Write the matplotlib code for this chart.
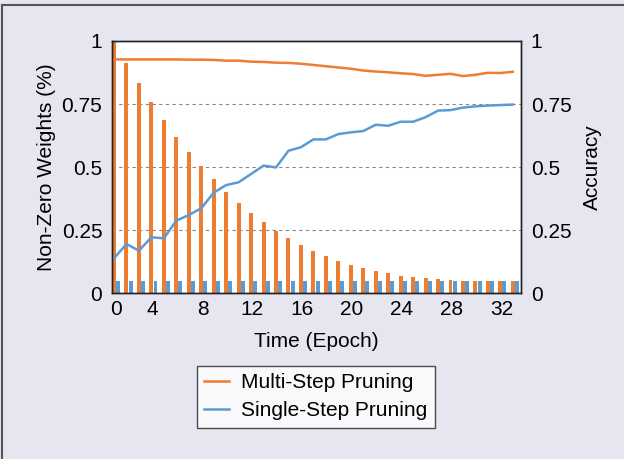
import matplotlib
matplotlib.use("Agg")
import matplotlib.pyplot as plt
import numpy as np

plt.rcParams["font.family"] = ["Liberation Sans", "DejaVu Sans"]
plt.rcParams["font.size"] = 15

epochs = np.arange(33)

# non-zero weight fraction (bars, left axis)
multi_weights = [1.0, 0.914, 0.835, 0.759, 0.687, 0.620, 0.560, 0.505, 0.453,
                 0.402, 0.358, 0.318, 0.283, 0.247, 0.219, 0.191, 0.169, 0.148,
                 0.129, 0.112, 0.100, 0.088, 0.080, 0.069, 0.065, 0.061, 0.057,
                 0.053, 0.05, 0.05, 0.05, 0.05, 0.05]
single_weights = [0.05] * 33

# accuracy (lines, right axis)
multi_acc = [0.927, 0.927, 0.927, 0.927, 0.927, 0.927, 0.926, 0.926, 0.925,
             0.922, 0.922, 0.918, 0.917, 0.914, 0.913, 0.910, 0.905, 0.900,
             0.895, 0.890, 0.883, 0.879, 0.876, 0.872, 0.869, 0.862, 0.866,
             0.870, 0.861, 0.866, 0.874, 0.873, 0.878]
single_acc = [0.139, 0.195, 0.169, 0.222, 0.218, 0.288, 0.310, 0.337, 0.399,
              0.429, 0.440, 0.473, 0.506, 0.499, 0.565, 0.579, 0.610, 0.610,
              0.631, 0.638, 0.643, 0.668, 0.664, 0.680, 0.680, 0.698, 0.724,
              0.726, 0.736, 0.741, 0.744, 0.746, 0.748]

xtick_labels = [0, 4, 8, 12, 16, 20, 24, 28, 32]
yticks = [0, 0.25, 0.5, 0.75, 1]
ytick_labels = ["0", "0.25", "0.5", "0.75", "1"]

orange = "#ED7D31"
blue = "#5B9BD5"
bg = "#E6E6F0"

fig = plt.figure(figsize=(6.24, 4.59), dpi=100, facecolor=bg)
ax = fig.add_axes([0.1795, 0.361, 0.6555, 0.5497])
ax2 = ax.twinx()

w = 0.32
ax.bar(epochs, multi_weights, width=w, color=orange, zorder=2)
ax.bar(epochs + 0.33, single_weights, width=w, color=blue, zorder=2)

ax2.plot(epochs, multi_acc, color=orange, lw=1.8, label="Multi-Step Pruning")
ax2.plot(epochs, single_acc, color=blue, lw=1.8, label="Single-Step Pruning")

for y in [0.25, 0.5, 0.75]:
    ax.axhline(y, color="#888888", lw=0.8, ls=(0, (3, 3)), zorder=1)

ax.set_xlim(-0.16, 32.66)
ax.set_ylim(0, 1)
ax2.set_ylim(0, 1)

tick_pos = [0.14] + [k - 0.9 for k in xtick_labels[1:]]
ax.set_xticks(tick_pos)
ax.set_xticklabels([str(k) for k in xtick_labels])
ax.set_yticks(yticks)
ax.set_yticklabels(ytick_labels)
ax2.set_yticks(yticks)
ax2.set_yticklabels(ytick_labels)

ax.tick_params(axis="x", length=0, pad=5)
ax.tick_params(axis="y", length=0, pad=7)
ax2.tick_params(axis="y", length=0, pad=7)

ax.set_xlabel("Time (Epoch)", labelpad=9)
ax.set_ylabel("Non-Zero Weights (%)", labelpad=4)
ax2.set_ylabel("Accuracy", labelpad=8)

for a in (ax, ax2):
    for s in a.spines.values():
        s.set_color("#222222")
        s.set_linewidth(1.0)

leg = fig.legend(loc="center", bbox_to_anchor=(0.506, 0.136), frameon=True,
                 fancybox=False, edgecolor="#222222", handlelength=1.2,
                 handletextpad=0.6, borderpad=0.35, labelspacing=0.45)
leg.get_frame().set_linewidth(1.0)

# outer frame lines (top and left)
fig.add_artist(plt.Line2D([0.004, 1], [0.989, 0.989], color="#555555", lw=1.5,
                          transform=fig.transFigure))
fig.add_artist(plt.Line2D([0.004, 0.004], [0, 0.989], color="#555555", lw=1.5,
                          transform=fig.transFigure))

fig.savefig("out.png", dpi=100, facecolor=bg)
